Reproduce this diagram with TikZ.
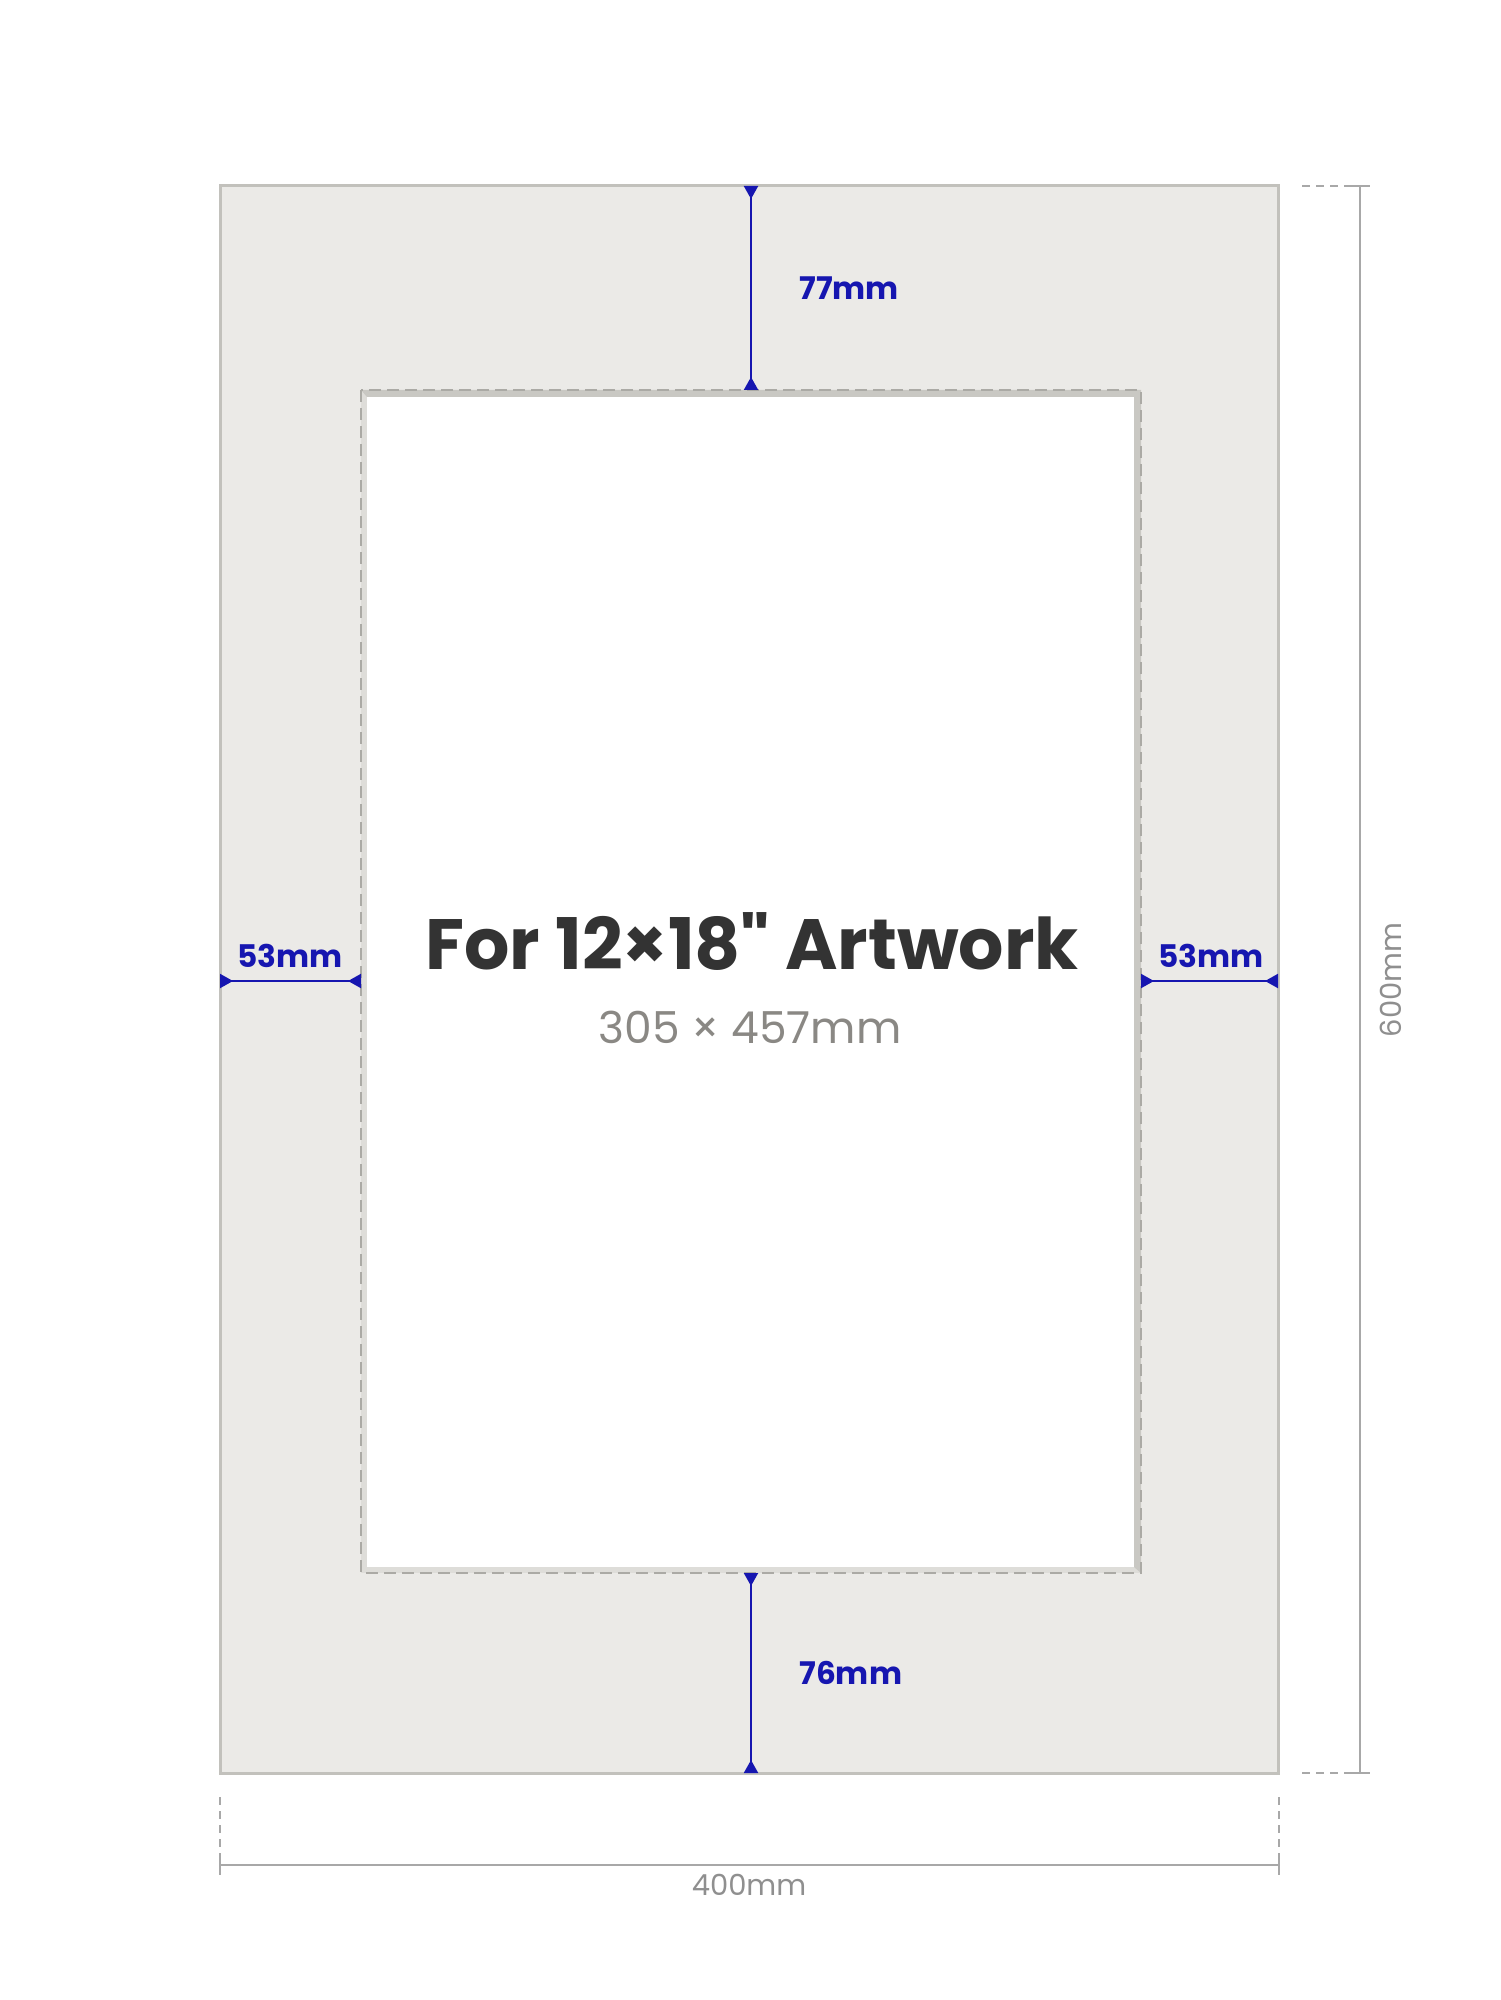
\documentclass[tikz,border=0pt]{standalone}
\usepackage{fontspec}
\setmainfont{Poppins}
\newfontfamily\plainpop{Poppins}
\usetikzlibrary{arrows.meta}
\definecolor{matfill}{HTML}{EBEAE7}
\definecolor{matedge}{HTML}{C2C1BC}
\definecolor{bevdark}{HTML}{C9C8C3}
\definecolor{bevlight}{HTML}{DEDDD9}
\definecolor{winedge}{HTML}{ABAAA5}
\definecolor{dimblue}{HTML}{1616B0}
\definecolor{dimgrey}{HTML}{A8A8A8}
\definecolor{titlegrey}{HTML}{333333}
\definecolor{subgrey}{HTML}{8A8884}
\begin{document}
\begin{tikzpicture}[x=0.5pt,y=-0.5pt,
  bluedim/.style={draw=dimblue, line width=1pt,
    {Triangle[reversed,width=7pt,length=6.5pt]}-{Triangle[reversed,width=7pt,length=6.5pt]}},
  bluelab/.style={text=dimblue, font=\bfseries\fontsize{15.6pt}{18pt}\selectfont, inner sep=0pt},
  greydim/.style={draw=dimgrey, line width=1pt},
  greyext/.style={draw=dimgrey, line width=0.8pt, dash pattern=on 4pt off 3pt},
  greylab/.style={text=dimgrey!85!black, font=\fontsize{14.5pt}{17pt}\selectfont, inner sep=0pt}]
\useasboundingbox (0,0) rectangle (1500,2000);
\fill[white] (0,0) rectangle (1500,2000);

% mat
\coordinate (mtl) at (220,186);
\coordinate (mbr) at (1278,1773);
\draw[matedge, line width=1.5pt, fill=matfill] (mtl) rectangle (mbr);

% window with bevel
\coordinate (wtl) at (361,390);
\coordinate (wbr) at (1141,1573);
\fill[bevlight] (wtl) rectangle (wbr);
\fill[bevdark] (361,390) -- (1141,390) -- (1141,1573) -- (1134,1567) -- (1134,397) -- (367,397) -- cycle;
\fill[white] (367,397) rectangle (1134,1567);
\draw[winedge, line width=1pt, dash pattern=on 6pt off 3pt] (wtl) rectangle (wbr);

% title
\node[anchor=base, text=titlegrey, font=\plainpop\bfseries\fontsize{35.6pt}{40pt}\selectfont, inner sep=0pt] (title) at (752,969) {For 12×18" Artwork};
\node[anchor=base, text=subgrey, font=\fontsize{22pt}{26pt}\selectfont, inner sep=0pt] (sub) at (750,1043) {305 × 457mm};

% blue dimensions
\coordinate (t1) at (751,186);
\coordinate (t2) at (751,390);
\draw[bluedim] (t1) -- (t2);
\node[bluelab, anchor=west] (l77) at (799,288) {77mm};

\coordinate (b1) at (751,1573);
\coordinate (b2) at (751,1773);
\draw[bluedim] (b1) -- (b2);
\node[bluelab, anchor=west] (l76) at (799,1673) {76mm};

\coordinate (le1) at (220,981);
\coordinate (le2) at (361,981);
\draw[bluedim] (le1) -- (le2);
\node[bluelab, anchor=base] (l53a) at (290,967) {53mm};

\coordinate (re1) at (1141,981);
\coordinate (re2) at (1278,981);
\draw[bluedim] (re1) -- (re2);
\node[bluelab, anchor=base] (l53b) at (1211,967) {53mm};

% overall height
\coordinate (h1) at (1360,186);
\coordinate (h2) at (1360,1773);
\draw[greydim] (h1) -- (h2);
\draw[greydim] (1350,186) -- (1370,186);
\draw[greydim] (1350,1773) -- (1370,1773);
\draw[greyext] (1302,186) -- (1350,186);
\draw[greyext] (1302,1773) -- (1350,1773);
\node[greylab, anchor=base, rotate=90] (l600) at (1401,980) {600mm};

% overall width
\coordinate (w1) at (220,1865);
\coordinate (w2) at (1279,1865);
\draw[greydim] (w1) -- (w2);
\draw[greydim] (220,1855) -- (220,1875);
\draw[greydim] (1279,1855) -- (1279,1875);
\draw[greyext] (220,1797) -- (220,1855);
\draw[greyext] (1279,1797) -- (1279,1855);
\node[greylab, anchor=base] (l400) at (749,1895) {400mm};
\end{tikzpicture}
\end{document}
